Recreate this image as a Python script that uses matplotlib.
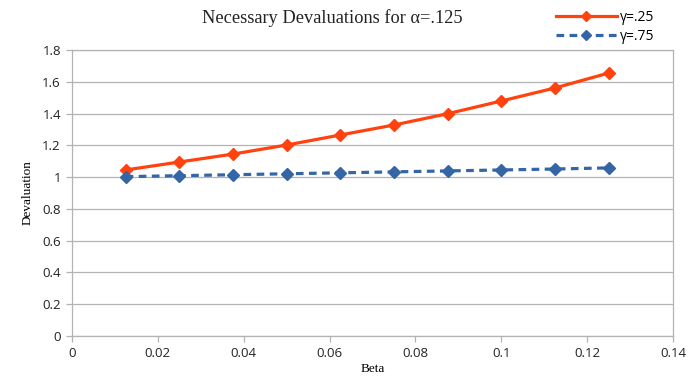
import matplotlib.pyplot as plt
import matplotlib as mpl


# ==========================
# Data
# ==========================

beta = [0.0125, 0.025, 0.0375, 0.05, 0.0625, 0.075, 0.0875, 0.1, 0.1125, 0.125]

dev_gamma_25 = [1.045, 1.095, 1.145, 1.202, 1.265, 1.328, 1.399, 1.479, 1.561, 1.655]
dev_gamma_75 = [1.003, 1.009, 1.015, 1.021, 1.027, 1.033, 1.039, 1.045, 1.051, 1.058]

x_ticks = [0, 0.02, 0.04, 0.06, 0.08, 0.1, 0.12, 0.14]
x_labels = ["0", "0.02", "0.04", "0.06", "0.08", "0.1", "0.12", "0.14"]
y_ticks = [0, 0.2, 0.4, 0.6, 0.8, 1, 1.2, 1.4, 1.6, 1.8]
y_labels = ["0", "0.2", "0.4", "0.6", "0.8", "1", "1.2", "1.4", "1.6", "1.8"]


# ==========================
# Style
# ==========================

mpl.rcParams["font.family"] = ["Open Sans", "DejaVu Sans"]
mpl.rcParams["font.size"] = 9.5

ORANGE = "#ff420e"
BLUE = "#3465a4"
GRID = "#b3b3b3"
SERIF = ["Liberation Serif", "DejaVu Serif"]


# ==========================
# Figure
# ==========================

fig = plt.figure(figsize=(6.89, 3.80), dpi=100)
ax = fig.add_axes([72 / 689, 1 - 336 / 380, (673 - 72) / 689, (336 - 50) / 380])

line_a, = ax.plot(
    beta, dev_gamma_25,
    color=ORANGE, linewidth=2.3,
    marker="D", markersize=6,
    label="γ=.25"
)

line_b, = ax.plot(
    beta, dev_gamma_75,
    color=BLUE, linewidth=2.3, linestyle=(0, (2.4, 1.7)),
    marker="D", markersize=6,
    label="γ=.75"
)

ax.set_xlim(0, 0.14)
ax.set_ylim(0, 1.8)
ax.set_xticks(x_ticks, x_labels)
ax.set_yticks(y_ticks, y_labels)

ax.grid(True, axis="y", color=GRID, linewidth=0.9)
ax.set_axisbelow(True)

for side in ["left", "right", "top", "bottom"]:
    ax.spines[side].set_color(GRID)
    ax.spines[side].set_linewidth(0.9)

ax.tick_params(
    axis="both", direction="out", length=4, width=0.9,
    color=GRID, labelcolor="#222222", pad=4
)

ax.set_xlabel("Beta", family=SERIF, fontsize=9.5, labelpad=2)
ax.set_ylabel("Devaluation", family=SERIF, fontsize=9.5, labelpad=6)

fig.text(
    332 / 689, 1 - 18 / 380,
    "Necessary Devaluations for α=.125",
    family=SERIF, fontsize=13.2, color="#222222",
    ha="center", va="center"
)

fig.legend(
    handles=[line_a, line_b],
    loc="upper left",
    bbox_to_anchor=(546 / 689, 1 - 0 / 380),
    frameon=False,
    handlelength=4.4,
    handletextpad=0.2,
    labelspacing=0.3,
    markerscale=0.8,
    fontsize=10,
    borderpad=0.2,
)

fig.savefig("out.png", dpi=100)
